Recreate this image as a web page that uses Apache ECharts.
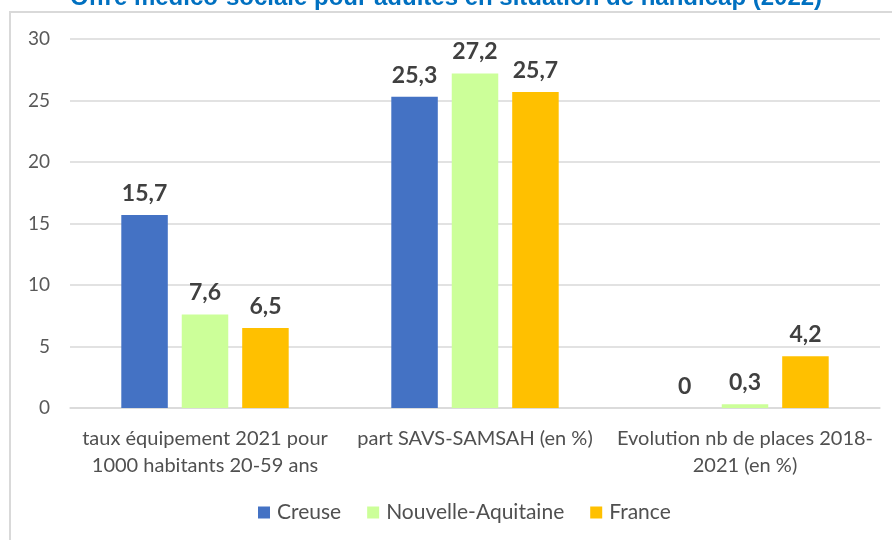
<!DOCTYPE html>
<html>
<head>
<meta charset="utf-8">
<script src="https://cdn.jsdelivr.net/npm/echarts@6/dist/echarts.min.js"></script>
<style>
  html, body { margin: 0; padding: 0; background: #fff; }
  #chart { width: 892px; height: 540px; }
</style>
</head>
<body>
<div id="chart"></div>
<script>
// données
var categories = [
  'taux équipement 2021 pour\n1000 habitants 20-59 ans',
  'part SAVS-SAMSAH (en %)',
  'Evolution nb de places 2018-\n2021 (en %)'
];
var creuse = [15.7, 25.3, 0];
var nouvelleAquitaine = [7.6, 27.2, 0.3];
var france = [6.5, 25.7, 4.2];
var yTicks = [0, 5, 10, 15, 20, 25, 30];

var chart = echarts.init(document.getElementById('chart'));

function lbl(p) {
  return String(p.value).replace('.', ',');
}
var labelStyle = {
  show: true,
  position: 'top',
  distance: 10,
  formatter: lbl,
  fontFamily: 'Lato',
  fontWeight: 'bold',
  fontSize: 23,
  color: '#404040'
};

chart.setOption({
  animation: false,
  title: {
    text: 'Offre médico-sociale pour adultes en situation de handicap (2022)',
    left: 'center',
    top: -19,
    textStyle: {
      fontFamily: 'Liberation Sans',
      fontWeight: 'bold',
      fontSize: 24,
      color: '#0070C0'
    }
  },
  graphic: [{
    type: 'rect',
    shape: { x: 10, y: 12, width: 900, height: 560 },
    style: { fill: 'none', stroke: '#D9D9D9', lineWidth: 2 },
    z: -1
  }],
  legend: {
    bottom: 12,
    left: 253,
    itemWidth: 12,
    itemHeight: 12,
    itemGap: 26,
    icon: 'rect',
    textStyle: { fontFamily: 'Lato', fontSize: 21, color: '#505050', padding: [0, 0, 0, 2] },
    data: ['Creuse', 'Nouvelle-Aquitaine', 'France']
  },
  grid: { left: 70, right: 12, top: 39, bottom: 132 },
  xAxis: {
    type: 'category',
    data: categories,
    axisTick: { show: false },
    axisLine: { lineStyle: { color: '#D9D9D9', width: 1.5 } },
    axisLabel: {
      fontFamily: 'Lato',
      fontSize: 20,
      color: '#505050',
      lineHeight: 27,
      margin: 17,
      interval: 0
    }
  },
  yAxis: {
    type: 'value',
    min: yTicks[0],
    max: yTicks[yTicks.length - 1],
    interval: 5,
    axisLine: { show: false },
    axisTick: { show: false },
    splitLine: { lineStyle: { color: '#D9D9D9', width: 1.5 } },
    axisLabel: {
      fontFamily: 'Lato',
      fontSize: 19,
      color: '#595959',
      margin: 20
    }
  },
  series: [
    { name: 'Creuse', type: 'bar', data: creuse, barGap: '30%', barCategoryGap: '38%',
      itemStyle: { color: '#4472C4' }, label: labelStyle },
    { name: 'Nouvelle-Aquitaine', type: 'bar', data: nouvelleAquitaine,
      itemStyle: { color: '#CCFF99' }, label: labelStyle },
    { name: 'France', type: 'bar', data: france,
      itemStyle: { color: '#FFC000' }, label: labelStyle }
  ]
});
</script>
</body>
</html>
